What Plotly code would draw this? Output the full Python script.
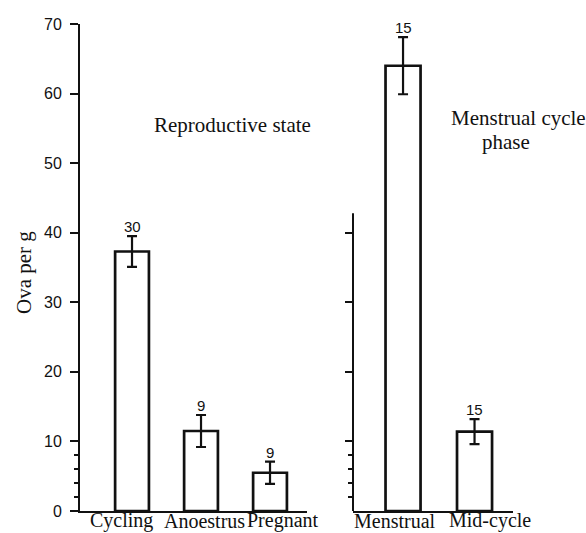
import plotly.graph_objects as go

# Ova per gram by reproductive state
repro_states = ["Cycling", "Anoestrus", "Pregnant"]
repro_means = [37.3, 11.5, 5.5]
repro_errs = [2.2, 2.3, 1.6]
repro_n = ["30", "9", "9"]

# Ova per gram by menstrual cycle phase
cycle_phases = ["Menstrual", "Mid-cycle"]
cycle_means = [64.0, 11.4]
cycle_errs = [4.1, 1.8]
cycle_n = ["15", "15"]

y_ticks = [0, 10, 20, 30, 40, 50, 60, 70]
right_ticks = [10, 20, 30, 40]
minor_ticks = [2, 4, 6, 8]
right_axis_top = 42.8

W, H = 586, 533
INK = "#111111"
SERIF = "Liberation Serif, Times New Roman, serif"
SANS = "Liberation Sans, Arial, sans-serif"


def px_x(p):
    return p / W


def px_y(p):
    return (H - p) / H


bar_style = dict(marker=dict(color="white", line=dict(color=INK, width=2.7)),
                 width=0.49, showlegend=False, hoverinfo="skip")

fig = go.Figure()
fig.add_trace(go.Bar(x=repro_states, y=repro_means,
                     error_y=dict(type="data", array=repro_errs, color=INK,
                                  thickness=2.2, width=5),
                     xaxis="x", yaxis="y", **bar_style))
fig.add_trace(go.Bar(x=cycle_phases, y=cycle_means,
                     error_y=dict(type="data", array=cycle_errs, color=INK,
                                  thickness=2.2, width=5),
                     xaxis="x2", yaxis="y2", **bar_style))

y_dom = [px_y(511), px_y(24)]
common_x = dict(showline=True, linecolor=INK, linewidth=2, ticks="",
                showticklabels=False, showgrid=False, zeroline=False,
                fixedrange=True, automargin=False)

fig.update_layout(
    width=W, height=H,
    margin=dict(l=0, r=0, t=0, b=0),
    paper_bgcolor="white", plot_bgcolor="white",
    bargap=0.5,
    xaxis=dict(domain=[px_x(80), px_x(307)], range=[-0.754, 2.536],
               anchor="y", **common_x),
    xaxis2=dict(domain=[px_x(353), px_x(513)], range=[-0.70, 1.538],
                anchor="y2", **common_x),
    yaxis=dict(domain=y_dom, range=[0, 70], anchor="x",
               showline=True, linecolor=INK, linewidth=2,
               ticks="outside", ticklen=8, tickwidth=2, tickcolor=INK,
               tickvals=y_ticks, ticklabelstandoff=5,
               tickfont=dict(family=SANS, size=16, color=INK),
               minor=dict(tickvals=minor_ticks, ticks="outside", ticklen=4,
                          tickwidth=1.5, tickcolor=INK),
               showgrid=False, zeroline=False, automargin=False),
    yaxis2=dict(domain=y_dom, range=[0, 70], anchor="x2",
                showline=False,
                ticks="outside", ticklen=7, tickwidth=2, tickcolor=INK,
                tickvals=right_ticks, showticklabels=False,
                minor=dict(tickvals=minor_ticks, ticks="outside", ticklen=4,
                           tickwidth=1.5, tickcolor=INK),
                showgrid=False, zeroline=False, automargin=False),
)

# left edge of the second panel's axis stops short of the top
fig.add_shape(type="line", xref="x2 domain", yref="y2",
              x0=0, x1=0, y0=0, y1=right_axis_top,
              line=dict(color=INK, width=2))

# sample sizes above the error bars
for xa, cats, means, errs, ns in [("x", repro_states, repro_means, repro_errs, repro_n),
                                  ("x2", cycle_phases, cycle_means, cycle_errs, cycle_n)]:
    ya = "y" if xa == "x" else "y2"
    for c, m, e, n in zip(cats, means, errs, ns):
        fig.add_annotation(x=c, y=m + e, xref=xa, yref=ya, text=n,
                           showarrow=False, yanchor="bottom", yshift=-1,
                           font=dict(family=SANS, size=15, color=INK))

# category labels under the baselines
label_shift = {"Cycling": -11, "Anoestrus": 3, "Pregnant": 13,
               "Menstrual": -8, "Mid-cycle": 15}
for xa, cats in [("x", repro_states), ("x2", cycle_phases)]:
    for c in cats:
        fig.add_annotation(x=c, xref=xa, y=0, yref="paper",
                           text=c, showarrow=False, yanchor="bottom",
                           xshift=label_shift[c], yshift=-1,
                           font=dict(family=SERIF, size=20, color=INK))

# panel headings
fig.add_annotation(x=px_x(152), y=px_y(125), xref="paper", yref="paper",
                   text="Reproductive state", showarrow=False,
                   xanchor="left", yanchor="middle",
                   font=dict(family=SERIF, size=21, color=INK))
fig.add_annotation(x=px_x(449), y=px_y(118), xref="paper", yref="paper",
                   text="Menstrual cycle", showarrow=False,
                   xanchor="left", yanchor="middle",
                   font=dict(family=SERIF, size=21, color=INK))
fig.add_annotation(x=px_x(480), y=px_y(142), xref="paper", yref="paper",
                   text="phase", showarrow=False,
                   xanchor="left", yanchor="middle",
                   font=dict(family=SERIF, size=21, color=INK))

# y-axis title
fig.add_annotation(x=px_x(24), y=px_y(273), xref="paper", yref="paper",
                   text="Ova per g", showarrow=False, textangle=-90,
                   xanchor="center", yanchor="middle",
                   font=dict(family=SERIF, size=21, color=INK))

fig.write_html("out.html")
